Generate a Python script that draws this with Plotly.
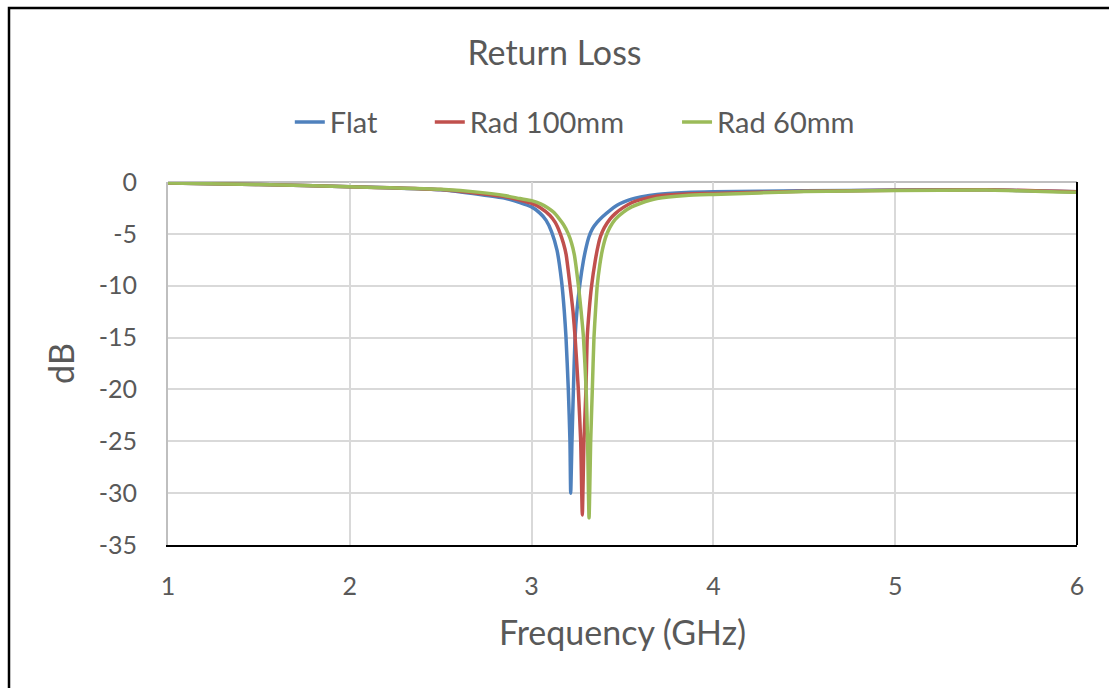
import plotly.graph_objects as go

flat_f = [1.0, 1.5, 2.0, 2.5, 2.716, 2.85, 2.936, 3.0, 3.046, 3.08, 3.11, 3.14, 3.165, 3.18, 3.189, 3.202, 3.211, 3.215,
          3.222, 3.23, 3.239, 3.25, 3.266, 3.285, 3.30, 3.315, 3.335, 3.36, 3.39, 3.43, 3.47, 3.505, 3.55, 3.6, 3.69,
          3.85, 4.0, 4.5, 5.0, 5.5, 6.0]
flat_db = [-0.1, -0.25, -0.45, -0.75, -1.2, -1.55, -1.98, -2.4, -3.0, -3.7, -4.8, -6.6, -9.6, -12.5, -14.9, -20.0, -25.0, -30.0,
           -25.0, -20.0, -15.0, -12.3, -9.8, -7.6, -6.3, -5.3, -4.5, -3.9, -3.35, -2.75, -2.25, -1.95, -1.65, -1.45, -1.2,
           -1.02, -0.95, -0.85, -0.78, -0.75, -0.95]

r100_f = [1.0, 1.5, 2.0, 2.5, 2.716, 2.85, 2.936, 3.0, 3.046, 3.1, 3.13, 3.156, 3.175, 3.19, 3.211, 3.228, 3.239, 3.257, 3.27, 3.279,
          3.288, 3.299, 3.306, 3.317, 3.33, 3.35, 3.365, 3.38, 3.40, 3.43, 3.46, 3.505, 3.55, 3.6, 3.69, 3.85, 4.0, 4.5, 5.0, 5.5, 6.0]
r100_db = [-0.1, -0.25, -0.45, -0.72, -1.1, -1.4, -1.75, -2.05, -2.45, -3.2, -3.9, -4.9, -5.9, -7.0, -9.9, -12.5, -14.9, -20.0, -25.0, -32.1,
           -25.0, -20.0, -15.0, -12.3, -10.0, -7.6, -6.2, -5.2, -4.4, -3.6, -3.05, -2.45, -2.0, -1.7, -1.35, -1.15, -1.1, -0.88, -0.8, -0.75, -0.95]

r60_f = [1.0, 1.5, 2.0, 2.5, 2.716, 2.85, 2.936, 3.0, 3.05, 3.09, 3.12, 3.15, 3.175, 3.202, 3.22, 3.235, 3.257, 3.272, 3.285, 3.3, 3.308, 3.316,
         3.325, 3.334, 3.343, 3.352, 3.361, 3.375, 3.39, 3.41, 3.43, 3.46, 3.505, 3.55, 3.6, 3.69, 3.85, 4.0, 4.5, 5.0, 5.5, 6.0]
r60_db = [-0.1, -0.25, -0.45, -0.7, -1.0, -1.3, -1.6, -1.8, -2.1, -2.5, -2.9, -3.5, -4.1, -5.0, -5.9, -7.0, -9.9, -12.4, -14.9, -20.0, -25.0, -32.4,
          -25.0, -20.0, -15.0, -12.3, -10.0, -8.0, -6.5, -5.2, -4.4, -3.6, -2.9, -2.4, -2.05, -1.6, -1.3, -1.2, -0.92, -0.82, -0.78, -1.0]

x_ticks = [1, 2, 3, 4, 5, 6]
y_ticks = [0, -5, -10, -15, -20, -25, -30, -35]
y_labels = ["0", "-5", "-10", "-15", "-20", "-25", "-30", "-35"]

series = [("Flat", flat_f, flat_db, "#4f81bd", "legend", 0.134),
          ("Rad 100mm", r100_f, r100_db, "#c0504d", "legend2", 0.288),
          ("Rad 60mm", r60_f, r60_db, "#9bbb59", "legend3", 0.560)]

txt = "#595959"
font_family = "Lato, 'Open Sans', sans-serif"

fig = go.Figure()
legends = {}
for name, fx, fy, col, lg, lx in series:
    fig.add_trace(go.Scatter(x=fx, y=fy, mode="lines", name=name, legend=lg,
                             line=dict(color=col, width=3.5, shape="spline", smoothing=0.5)))
    legends[lg] = dict(orientation="h", x=lx, xanchor="left", y=1.165, yanchor="middle",
                       font=dict(size=29, color=txt, family=font_family),
                       bgcolor="rgba(0,0,0,0)")

fig.update_layout(
    width=1109, height=688,
    margin=dict(l=168, r=32, t=182, b=143),
    paper_bgcolor="white", plot_bgcolor="white",
    font=dict(family=font_family, color=txt, size=25),
    title=dict(text="Return Loss", x=0.5, xanchor="center", y=1 - 53 / 688, yanchor="middle",
               font=dict(size=34, color=txt, family=font_family)),
    xaxis=dict(range=[1, 6], tickvals=x_ticks, showgrid=True, gridcolor="#d9d9d9", gridwidth=1.5,
               showline=True, linecolor="black", linewidth=2, zeroline=False,
               ticks="", ticklabelstandoff=18, tickfont=dict(size=25, color=txt),
               title=dict(text="Frequency (GHz)", font=dict(size=34, color=txt), standoff=22)),
    yaxis=dict(range=[-35, 0], tickvals=y_ticks, ticktext=y_labels, showgrid=True, gridcolor="#d9d9d9", gridwidth=1.5,
               showline=True, linecolor="#bfbfbf", linewidth=2, zeroline=False,
               ticks="", ticklabelstandoff=24, tickfont=dict(size=25, color=txt),
               title=dict(text="dB", font=dict(size=34, color=txt), standoff=14)),
    showlegend=True,
    **legends,
)

# plot-area right border and top gridline
fig.add_shape(type="line", xref="paper", yref="paper", x0=1, x1=1, y0=0, y1=1,
              line=dict(color="black", width=2))
fig.add_shape(type="line", xref="paper", yref="paper", x0=0, x1=1, y0=1, y1=1,
              line=dict(color="#bfbfbf", width=2), layer="below")
# outer chart frame
fig.add_shape(type="rect", xref="paper", yref="paper",
              x0=(9 - 168) / 909, x1=1.2, y0=-0.6, y1=(545 - 8) / 363,
              line=dict(color="black", width=2.5), layer="above")

fig.write_html("out.html")
